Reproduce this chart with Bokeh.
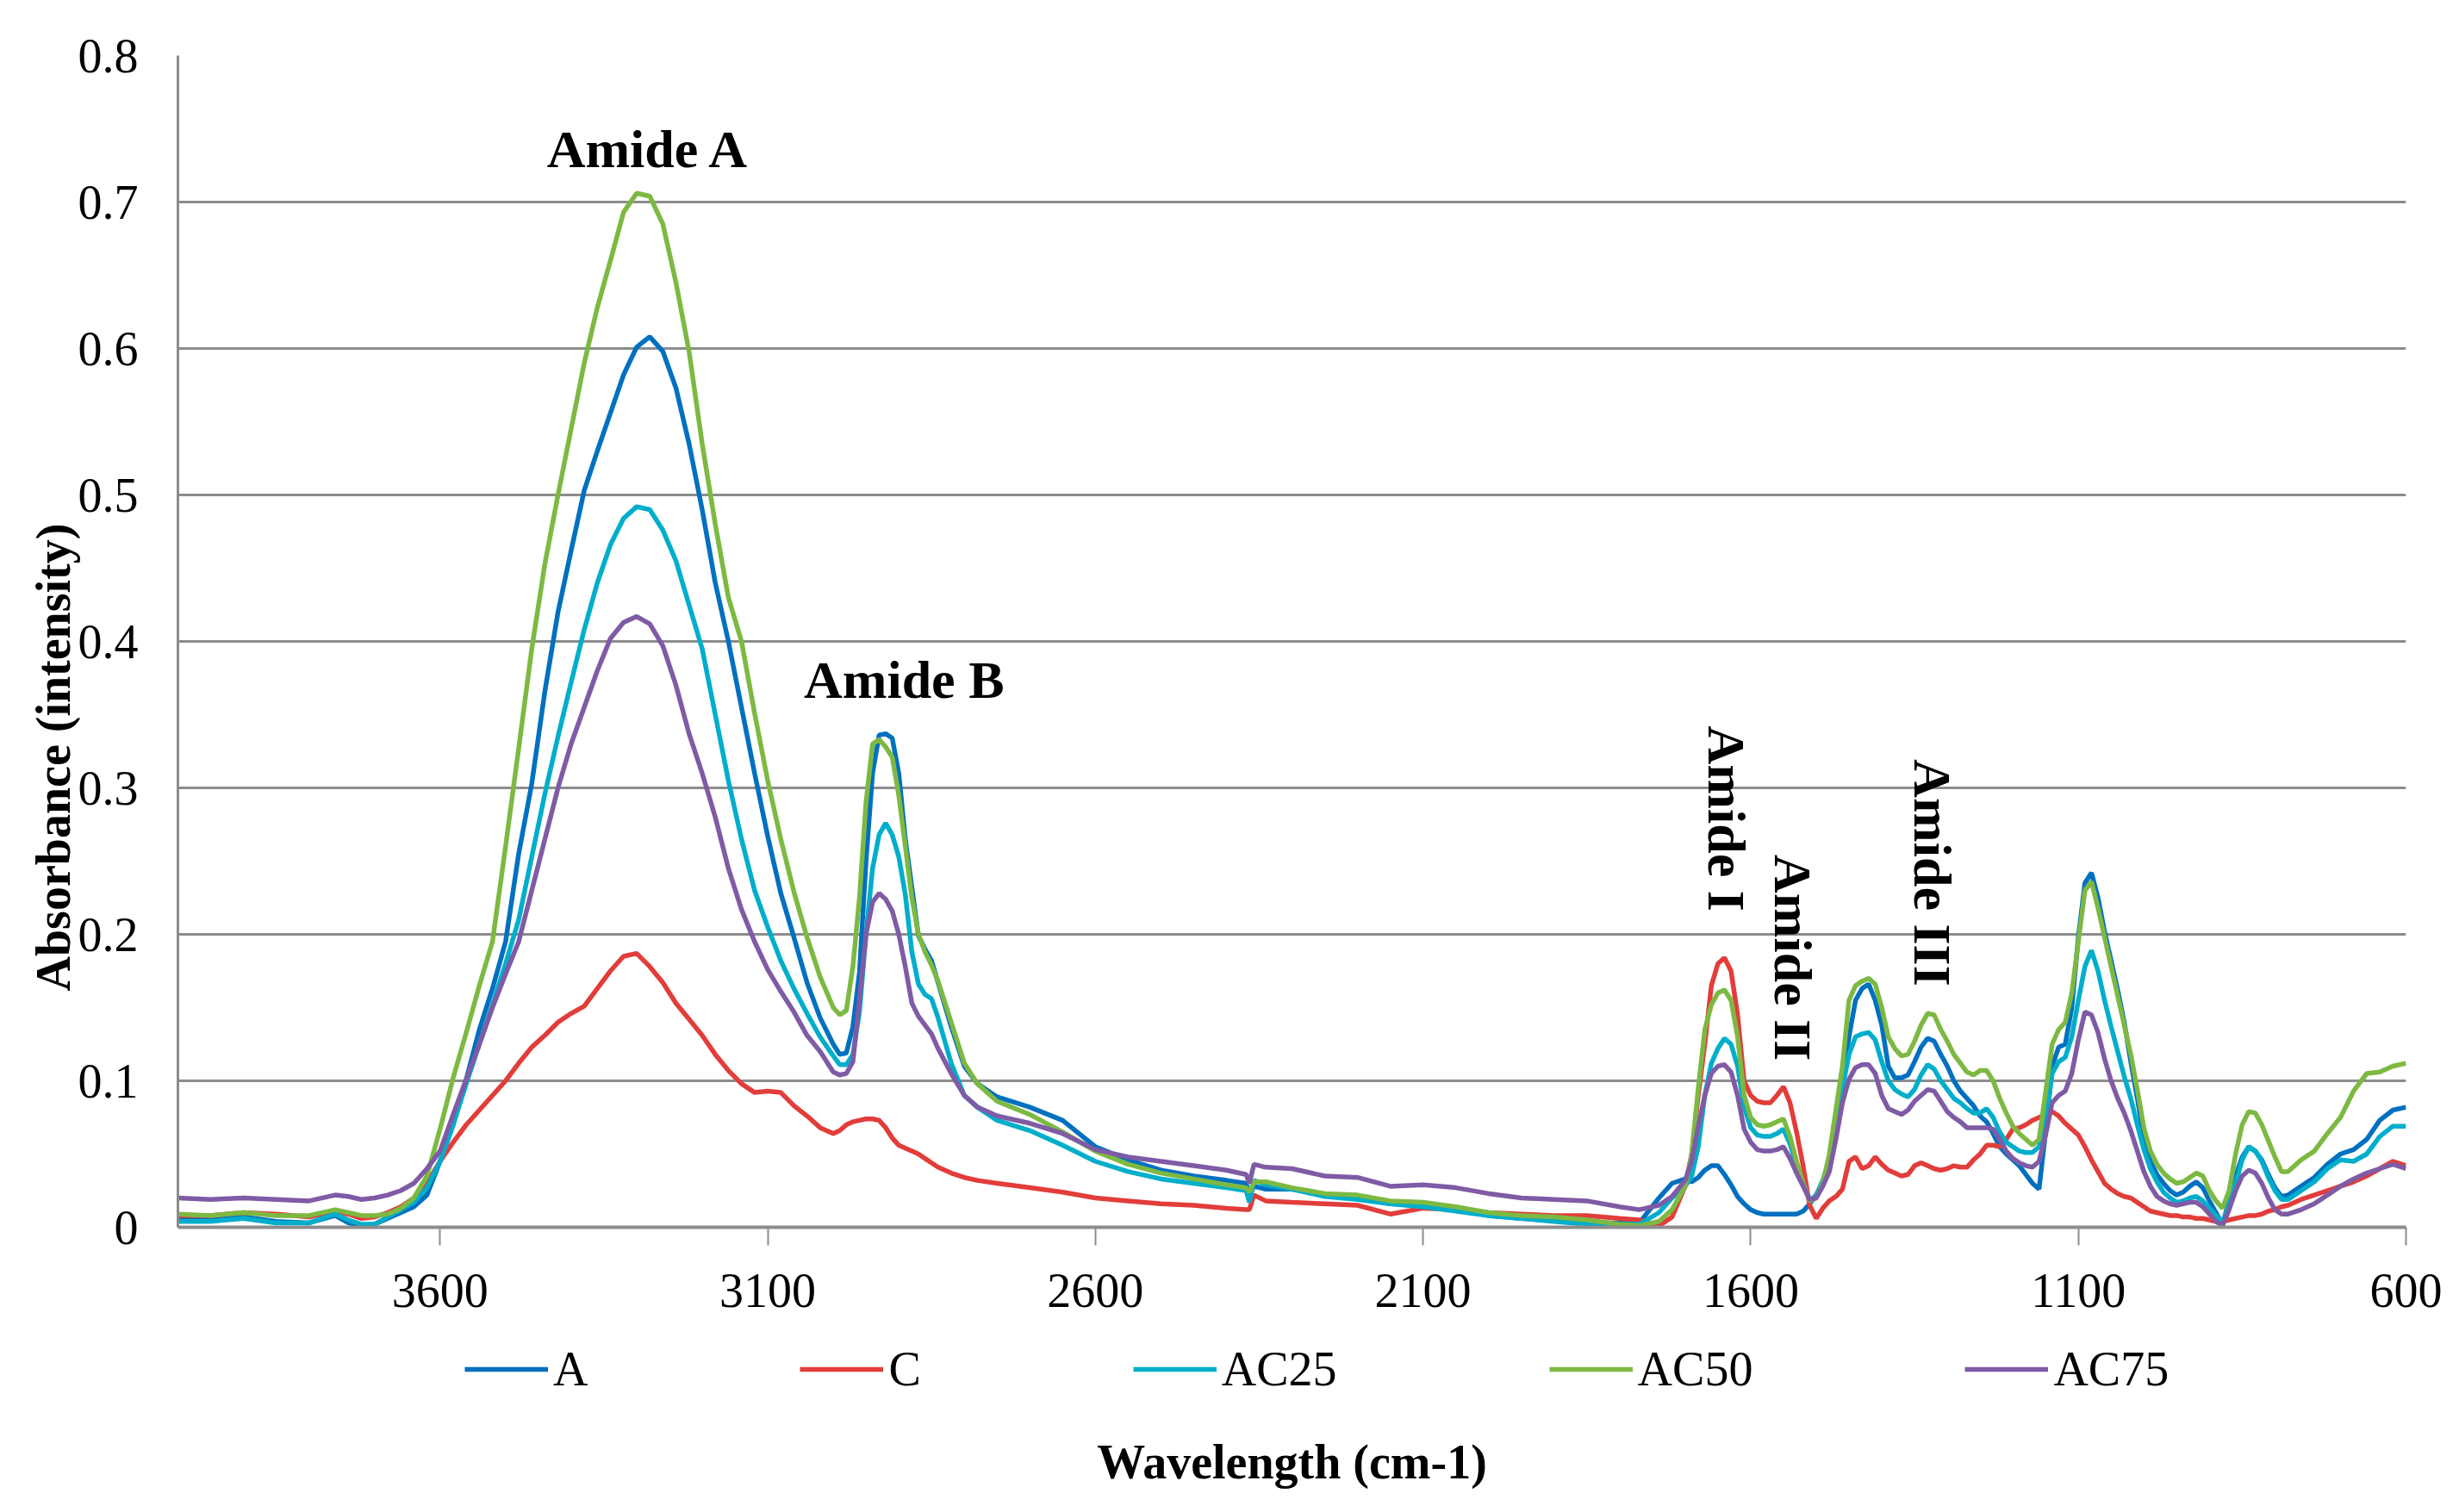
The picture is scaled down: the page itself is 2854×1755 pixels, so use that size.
import math

from bokeh.plotting import figure
from bokeh.layouts import column
from bokeh.models import (ColumnDataSource, Range1d, FixedTicker, Legend,
                          LegendItem, Label, Title)
from bokeh.embed import file_html
from bokeh.resources import INLINE

# wavenumber grid (cm-1)
wavenumber = [
    4000, 3950, 3900, 3850, 3800, 3760, 3740, 3720, 3700, 3680, 3660, 3640, 3620,
    3600, 3580, 3560, 3540, 3520, 3500, 3480, 3460, 3440, 3420, 3400, 3380, 3360,
    3340, 3320, 3300, 3280, 3260, 3240, 3220, 3200, 3180, 3160, 3140, 3120, 3100,
    3080, 3060, 3040, 3020, 3000,
    2990, 2980, 2970, 2960, 2950, 2940, 2930, 2920, 2910, 2900, 2890, 2880, 2870,
    2860, 2850,
    2840, 2820, 2800, 2780,
    2750, 2700, 2650, 2600, 2550, 2500, 2450, 2400,
    2370, 2365, 2358, 2340,
    2300, 2250, 2200, 2150, 2100, 2050, 2000, 1950, 1900, 1850, 1800, 1770, 1740,
    1720, 1700,
    1690, 1680, 1670, 1660, 1650, 1640, 1630, 1620, 1610, 1600,
    1590, 1580, 1570, 1560, 1550, 1540, 1530, 1520, 1510, 1500,
    1490, 1480, 1470, 1460, 1450, 1440, 1430, 1420, 1410, 1400,
    1390, 1380, 1370, 1360, 1350, 1340, 1330, 1320, 1310, 1300,
    1290, 1280, 1270, 1260, 1250, 1240, 1230, 1220, 1210, 1200,
    1190, 1180, 1170, 1160, 1150, 1140, 1130, 1120, 1110, 1100,
    1090, 1080, 1070, 1060, 1050, 1040, 1030, 1020, 1010, 1000,
    990, 980, 970, 960, 950, 940, 930, 920, 910, 900,
    890, 880, 870, 860, 850, 840, 830, 820, 810, 800,
    790, 780, 760, 740, 720, 700, 680, 660, 640, 620, 600,
]

abs_A = [
    0.006, 0.005, 0.007, 0.004, 0.003, 0.008, 0.003, 0.001, 0.002, 0.006, 0.010, 0.014, 0.022,
    0.045, 0.070, 0.101, 0.135, 0.163, 0.195, 0.255, 0.303, 0.366, 0.420, 0.462, 0.503, 0.530,
    0.556, 0.582, 0.601, 0.608, 0.598, 0.573, 0.535, 0.490, 0.440, 0.400, 0.355, 0.310, 0.267,
    0.228, 0.198, 0.167, 0.143, 0.125,
    0.118, 0.119, 0.137, 0.174, 0.250, 0.310, 0.336, 0.337, 0.334, 0.310, 0.265, 0.232, 0.199,
    0.190, 0.182,
    0.167, 0.137, 0.110, 0.098,
    0.089, 0.082, 0.073, 0.055, 0.046, 0.039, 0.035, 0.032,
    0.030, 0.022, 0.028, 0.026,
    0.026, 0.022, 0.020, 0.016, 0.015, 0.012, 0.008, 0.006, 0.005, 0.003, 0.003, 0.003, 0.020,
    0.030, 0.033,
    0.031, 0.034, 0.039, 0.042, 0.042, 0.036, 0.029, 0.021, 0.016, 0.012,
    0.010, 0.009, 0.009, 0.009, 0.009, 0.009, 0.009, 0.011, 0.016, 0.022,
    0.030, 0.045, 0.070, 0.100, 0.130, 0.155, 0.163, 0.166, 0.155, 0.138,
    0.110, 0.102, 0.102, 0.104, 0.113, 0.123, 0.129, 0.127, 0.118, 0.110,
    0.100, 0.093, 0.088, 0.083, 0.076, 0.072, 0.064, 0.055, 0.050, 0.046,
    0.042, 0.036, 0.030, 0.026, 0.065, 0.110, 0.123, 0.125, 0.150, 0.198,
    0.235, 0.242, 0.225, 0.202, 0.182, 0.162, 0.140, 0.113, 0.088, 0.061,
    0.045, 0.036, 0.030, 0.025, 0.022, 0.024, 0.028, 0.031, 0.027, 0.018,
    0.010, 0.002, 0.018, 0.035, 0.048, 0.055, 0.052, 0.046, 0.036, 0.027,
    0.021, 0.022, 0.028, 0.034, 0.043, 0.050, 0.053, 0.060, 0.073, 0.080, 0.082,
]

abs_C = [
    0.008, 0.008, 0.010, 0.009, 0.007, 0.011, 0.009, 0.006, 0.007, 0.010, 0.014, 0.020, 0.030,
    0.045, 0.058, 0.070, 0.080, 0.090, 0.100, 0.112, 0.123, 0.131, 0.140, 0.146, 0.151, 0.163,
    0.175, 0.185, 0.187, 0.178, 0.167, 0.153, 0.142, 0.131, 0.118, 0.107, 0.098, 0.092, 0.093,
    0.092, 0.083, 0.076, 0.068, 0.064,
    0.066, 0.070, 0.072, 0.073, 0.074, 0.074, 0.073, 0.068, 0.061, 0.056, 0.054, 0.052, 0.050,
    0.047, 0.044,
    0.041, 0.037, 0.034, 0.032,
    0.030, 0.027, 0.024, 0.020, 0.018, 0.016, 0.015, 0.013,
    0.012, 0.012, 0.022, 0.018,
    0.017, 0.016, 0.015, 0.009, 0.013, 0.012, 0.010, 0.009, 0.008, 0.008, 0.006, 0.005, 0.001,
    0.007, 0.028,
    0.050, 0.090, 0.125, 0.165, 0.180, 0.184, 0.175, 0.145, 0.100, 0.090,
    0.086, 0.085, 0.085, 0.090, 0.096, 0.085, 0.065, 0.042, 0.015, 0.006,
    0.013, 0.018, 0.021, 0.026, 0.045, 0.048, 0.040, 0.042, 0.048, 0.043,
    0.039, 0.037, 0.035, 0.036, 0.042, 0.044, 0.042, 0.040, 0.039, 0.040,
    0.042, 0.041, 0.041, 0.046, 0.050, 0.056, 0.056, 0.055, 0.060, 0.067,
    0.068, 0.070, 0.073, 0.075, 0.077, 0.079, 0.076, 0.071, 0.067, 0.063,
    0.055, 0.046, 0.038, 0.030, 0.026, 0.023, 0.021, 0.020, 0.017, 0.014,
    0.011, 0.010, 0.009, 0.008, 0.008, 0.007, 0.007, 0.006, 0.006, 0.005,
    0.004, 0.004, 0.005, 0.006, 0.007, 0.008, 0.008, 0.009, 0.011, 0.012,
    0.014, 0.015, 0.019, 0.022, 0.025, 0.028, 0.031, 0.035, 0.040, 0.045, 0.042,
]

abs_AC25 = [
    0.004, 0.004, 0.006, 0.003, 0.003, 0.009, 0.005, 0.002, 0.002, 0.007, 0.012, 0.017, 0.027,
    0.045, 0.070, 0.098, 0.125, 0.152, 0.180, 0.210, 0.253, 0.296, 0.335, 0.372, 0.408, 0.440,
    0.466, 0.484, 0.492, 0.490, 0.476, 0.455, 0.425, 0.395, 0.350, 0.305, 0.265, 0.230, 0.205,
    0.182, 0.163, 0.146, 0.130, 0.117,
    0.111, 0.111, 0.118, 0.147, 0.200, 0.245, 0.268, 0.276, 0.268, 0.253, 0.227, 0.188, 0.166,
    0.159, 0.156,
    0.143, 0.112, 0.090, 0.082,
    0.073, 0.066, 0.056, 0.045, 0.038, 0.033, 0.030, 0.027,
    0.025, 0.017, 0.032, 0.029,
    0.026, 0.021, 0.019, 0.016, 0.014, 0.011, 0.008, 0.006, 0.004, 0.002, 0.002, 0.002, 0.010,
    0.020, 0.028,
    0.035, 0.055, 0.090, 0.112, 0.122, 0.129, 0.125, 0.110, 0.082, 0.068,
    0.063, 0.062, 0.062, 0.064, 0.067, 0.057, 0.042, 0.030, 0.018, 0.022,
    0.032, 0.045, 0.070, 0.095, 0.118, 0.130, 0.132, 0.133, 0.128, 0.113,
    0.100, 0.094, 0.091, 0.089, 0.094, 0.104, 0.111, 0.108, 0.100, 0.094,
    0.088, 0.085, 0.081, 0.078, 0.078, 0.081, 0.075, 0.065, 0.058, 0.055,
    0.052, 0.051, 0.051, 0.055, 0.070, 0.105, 0.113, 0.116, 0.130, 0.155,
    0.178, 0.189, 0.175, 0.155, 0.137, 0.120, 0.103, 0.088, 0.070, 0.053,
    0.040, 0.031, 0.024, 0.020, 0.017, 0.018, 0.020, 0.021, 0.018, 0.013,
    0.008, 0.003, 0.015, 0.030, 0.046, 0.055, 0.052, 0.045, 0.034, 0.025,
    0.019, 0.019, 0.025, 0.031, 0.040, 0.046, 0.045, 0.050, 0.062, 0.069, 0.069,
]

abs_AC50 = [
    0.009, 0.008, 0.010, 0.008, 0.008, 0.012, 0.010, 0.008, 0.008, 0.009, 0.013, 0.020, 0.035,
    0.067, 0.102, 0.133, 0.165, 0.195, 0.260, 0.327, 0.395, 0.453, 0.500, 0.545, 0.590, 0.628,
    0.660, 0.693, 0.706, 0.704, 0.685, 0.645, 0.598, 0.535, 0.480, 0.430, 0.400, 0.351, 0.305,
    0.265, 0.229, 0.198, 0.171, 0.150,
    0.145, 0.148, 0.178, 0.225, 0.290, 0.330, 0.333, 0.328, 0.321, 0.295, 0.260, 0.225, 0.200,
    0.188, 0.179,
    0.168, 0.140, 0.112, 0.098,
    0.086, 0.077, 0.065, 0.052, 0.043, 0.037, 0.033, 0.029,
    0.027, 0.024, 0.031, 0.031,
    0.027, 0.023, 0.022, 0.018, 0.017, 0.014, 0.010, 0.008, 0.007, 0.005, 0.002, 0.001, 0.004,
    0.012, 0.028,
    0.050, 0.095, 0.135, 0.152, 0.160, 0.162, 0.155, 0.130, 0.090, 0.075,
    0.070, 0.069, 0.070, 0.072, 0.074, 0.062, 0.045, 0.030, 0.018, 0.020,
    0.030, 0.050, 0.080, 0.110, 0.155, 0.165, 0.168, 0.170, 0.166, 0.150,
    0.130, 0.122, 0.117, 0.118, 0.127, 0.138, 0.146, 0.145, 0.135, 0.127,
    0.118, 0.112, 0.106, 0.104, 0.107, 0.107, 0.100, 0.088, 0.078, 0.069,
    0.064, 0.060, 0.056, 0.060, 0.092, 0.125, 0.135, 0.140, 0.160, 0.195,
    0.230, 0.236, 0.218, 0.198, 0.178, 0.158, 0.138, 0.118, 0.094, 0.068,
    0.052, 0.043, 0.037, 0.033, 0.030, 0.031, 0.034, 0.037, 0.035, 0.025,
    0.018, 0.013, 0.025, 0.050, 0.070, 0.079, 0.078, 0.070, 0.059, 0.048,
    0.038, 0.038, 0.046, 0.052, 0.064, 0.075, 0.093, 0.105, 0.106, 0.110, 0.112,
]

abs_AC75 = [
    0.020, 0.019, 0.020, 0.019, 0.018, 0.022, 0.021, 0.019, 0.020, 0.022, 0.025, 0.030, 0.040,
    0.052, 0.077, 0.101, 0.125, 0.150, 0.173, 0.195, 0.230, 0.265, 0.300, 0.330, 0.355, 0.380,
    0.402, 0.413, 0.417, 0.412, 0.397, 0.370, 0.337, 0.310, 0.280, 0.245, 0.217, 0.195, 0.176,
    0.161, 0.147, 0.131, 0.120, 0.106,
    0.104, 0.105, 0.113, 0.155, 0.200, 0.222, 0.228, 0.224, 0.216, 0.200, 0.178, 0.153, 0.144,
    0.138, 0.132,
    0.122, 0.105, 0.090, 0.082,
    0.076, 0.071, 0.064, 0.053, 0.048, 0.045, 0.042, 0.039,
    0.036, 0.030, 0.043, 0.041,
    0.040, 0.035, 0.034, 0.028, 0.029, 0.027, 0.023, 0.020, 0.019, 0.018, 0.014, 0.012, 0.015,
    0.021, 0.032,
    0.045, 0.069, 0.090, 0.105, 0.110, 0.111, 0.106, 0.090, 0.067, 0.058,
    0.053, 0.052, 0.052, 0.053, 0.055, 0.047, 0.037, 0.028, 0.019, 0.020,
    0.028, 0.038, 0.060, 0.085, 0.101, 0.109, 0.111, 0.111, 0.105, 0.090,
    0.081, 0.079, 0.077, 0.080, 0.086, 0.090, 0.094, 0.093, 0.086, 0.079,
    0.075, 0.072, 0.068, 0.068, 0.068, 0.068, 0.067, 0.060, 0.052, 0.047,
    0.044, 0.042, 0.041, 0.045, 0.063, 0.085, 0.090, 0.093, 0.105, 0.128,
    0.147, 0.145, 0.133, 0.115, 0.100, 0.088, 0.078, 0.066, 0.052, 0.038,
    0.028, 0.021, 0.018, 0.016, 0.015, 0.016, 0.017, 0.017, 0.014, 0.009,
    0.004, 0.001, 0.012, 0.025, 0.035, 0.039, 0.037, 0.030, 0.020, 0.012,
    0.009, 0.009, 0.012, 0.016, 0.022, 0.028, 0.033, 0.037, 0.040, 0.043, 0.040,
]

series_names = ["A", "C", "AC25", "AC50", "AC75"]
series_values = [abs_A, abs_C, abs_AC25, abs_AC50, abs_AC75]
series_colors = ["#0070C0", "#E23D3A", "#00AECB", "#7DB942", "#7F5BA6"]

y_ticks = [0, 0.1, 0.2, 0.3, 0.4, 0.5, 0.6, 0.7, 0.8]
x_ticks = [3600, 3100, 2600, 2100, 1600, 1100, 600]

for vals in series_values:
    assert len(vals) == len(wavenumber), (len(vals), len(wavenumber))

FONT = "Liberation Serif"
GRID = "#8c8c8c"
W = 2836
H_MAIN = 1558
H_KEY = 179
FRAME_W = 2586
LW = 5.5

# main chart: frame, axes, curves, notes
p = figure(width=W, height=H_MAIN, output_backend="svg", toolbar_location=None,
           x_range=Range1d(4000, 600), y_range=Range1d(0, 0.8),
           min_border_left=206, min_border_right=44, min_border_top=64,
           min_border_bottom=134)
p.outline_line_color = None
p.background_fill_color = "white"
p.border_fill_color = "white"

p.xgrid.grid_line_color = None
p.ygrid.grid_line_color = GRID
p.ygrid.grid_line_width = 3
p.ygrid.ticker = FixedTicker(ticks=y_ticks)

p.yaxis.ticker = FixedTicker(ticks=y_ticks)
p.yaxis.major_label_overrides = {0: "0"}
p.yaxis.major_tick_out = 0
p.yaxis.major_tick_in = 0
p.yaxis.minor_tick_line_color = None
p.yaxis.axis_line_color = GRID
p.yaxis.axis_line_width = 3
p.yaxis.major_label_standoff = 46

p.xaxis.ticker = FixedTicker(ticks=x_ticks)
p.xaxis.major_tick_out = 21
p.xaxis.major_tick_in = 0
p.xaxis.major_tick_line_color = GRID
p.xaxis.major_tick_line_width = 2
p.xaxis.minor_tick_line_color = None
p.xaxis.axis_line_color = GRID
p.xaxis.axis_line_width = 4
p.xaxis.major_label_standoff = 33

for ax in (p.xaxis, p.yaxis):
    ax.major_label_text_font = FONT
    ax.major_label_text_font_size = "56px"
    ax.major_label_text_color = "black"

src = ColumnDataSource(data=dict(w=wavenumber, **{n: v for n, v in zip(series_names, series_values)}))

for name, color in zip(series_names, series_colors):
    p.line("w", name, source=src, line_color=color, line_width=LW)

# y axis title, starts a bit above the bottom of the frame as in the picture
p.add_layout(Title(text="Absorbance (intensity)", align="left", offset=274,
                   text_font=FONT, text_font_size="56px", text_font_style="bold",
                   text_color="black", standoff=-10),
             "left")

notes = [
    ("Amide A", 3282, 0.736, 0),
    ("Amide B", 2892, 0.374, 0),
    ("Amide I", 1637, 0.279, -math.pi / 2),
    ("Amide II", 1536, 0.184, -math.pi / 2),
    ("Amide III", 1322, 0.242, -math.pi / 2),
]
for text, x, y, ang in notes:
    p.add_layout(Label(x=x, y=y, text=text, angle=ang, text_align="center",
                       text_baseline="alphabetic" if ang == 0 else "middle",
                       text_font=FONT, text_font_size="62px",
                       text_font_style="bold", text_color="black"))

# strip under the chart (its frame lines up with the chart frame): legend and
# x axis title; the y range sits above the data so the legend proxies stay hidden
KEY_Y0 = 100
key = figure(width=W, height=H_KEY, output_backend="svg", toolbar_location=None,
             x_range=Range1d(0, FRAME_W), y_range=Range1d(KEY_Y0, KEY_Y0 + H_KEY),
             x_axis_type=None, y_axis_type=None,
             min_border_left=0, min_border_right=0, min_border_top=0,
             min_border_bottom=0)
key.outline_line_color = None
key.xgrid.grid_line_color = None
key.ygrid.grid_line_color = None
key.background_fill_color = "white"
key.border_fill_color = "white"

items = []
for name, color in zip(series_names, series_colors):
    r = key.line("w", name, source=src, line_color=color, line_width=LW)
    items.append(LegendItem(label=name, renderers=[r]))

legend = Legend(items=items, orientation="horizontal", location=(333, 116),
                label_text_font=FONT, label_text_font_size="56px",
                label_text_color="black",
                glyph_width=97, glyph_height=64, label_standoff=6, spacing=246,
                padding=0, margin=0, border_line_color=None,
                background_fill_alpha=0)
key.add_layout(legend)

key.add_layout(Label(x=FRAME_W / 2, y=KEY_Y0 + 41, text="Wavelength (cm-1)",
                     text_align="center", text_baseline="alphabetic",
                     text_font=FONT, text_font_size="56px",
                     text_font_style="bold", text_color="black"))

open("out.html", "w").write(file_html(column(p, key), INLINE))
